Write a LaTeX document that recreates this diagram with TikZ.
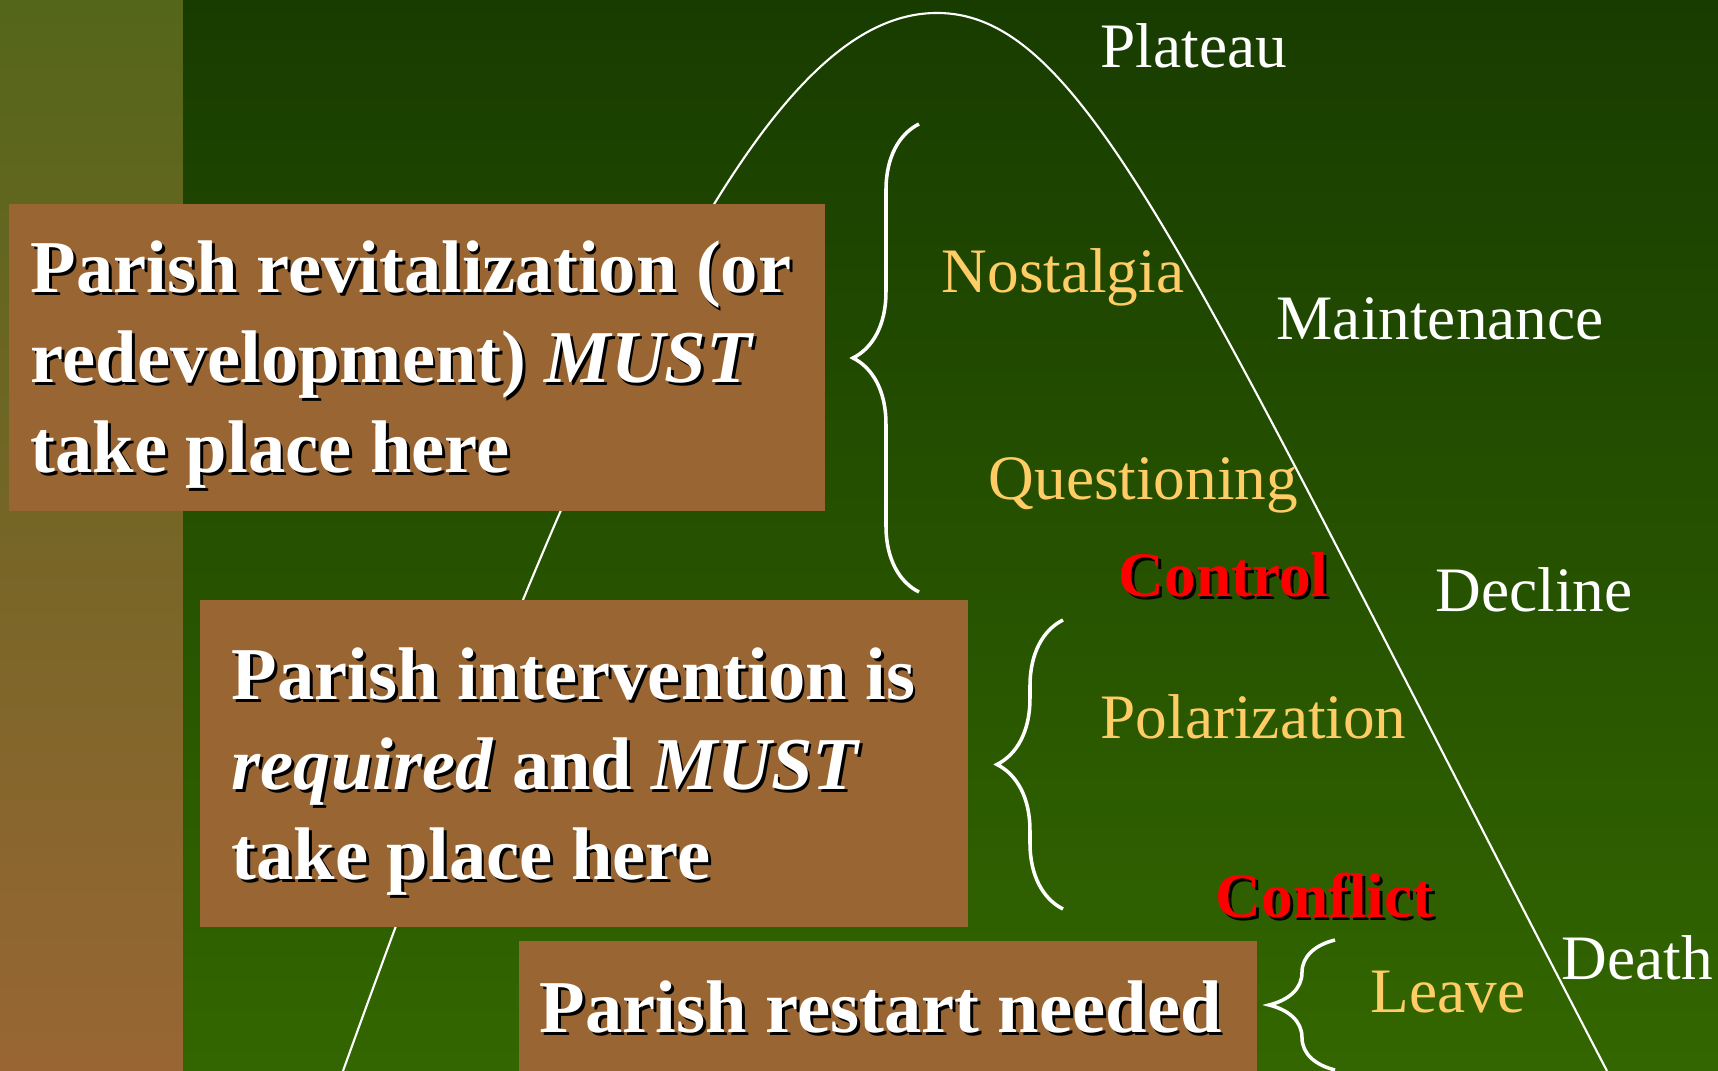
\documentclass[tikz,border=0pt]{standalone}
\usepackage{fontspec}
\setmainfont{Liberation Serif}
\usetikzlibrary{decorations.pathreplacing}

\definecolor{bgtop}{HTML}{183C00}
\definecolor{bgbot}{HTML}{336600}
\definecolor{striptop}{HTML}{54661A}
\definecolor{boxbrown}{HTML}{996633}
\definecolor{gold}{HTML}{FFCC66}
\newcommand{\shad}[1]{\rlap{\kern0.8pt\raisebox{-0.8pt}{\color{black}#1}}#1}

\begin{document}
\begin{tikzpicture}[x=0.01cm,y=-0.01cm,
    box/.style={fill=boxbrown,inner sep=0pt,anchor=north west},
    big/.style={anchor=base west,inner sep=0pt,text=white,font=\fontsize{21.2}{25}\selectfont\bfseries},
    stage/.style={anchor=base west,inner sep=0pt,text=white,font=\fontsize{18}{22}\selectfont},
    mood/.style={stage,text=gold},
    alarm/.style={stage,text=red,font=\fontsize{18}{22}\selectfont\bfseries},
    curly/.style={draw=white,line width=1pt,decorate,decoration={brace,amplitude=0.66cm}}]
            \useasboundingbox (0,0) rectangle (1718,1071);
            \shade[top color=striptop,bottom color=boxbrown] (0,0) rectangle (183,1071);
            \shade[top color=bgtop,bottom color=bgbot] (183,0) rectangle (1718,1071);
            % life cycle curve
            \coordinate (rise) at (343,1071);
            \coordinate (peak) at (937,13);
            \coordinate (fall) at (1607,1071);
            \draw[white,line width=0.6pt] (rise) .. controls (631,271) and (787,13) .. (peak)
                .. controls (1087,13) and (1191,271) .. (fall);
            % boxes
            \node[box,minimum width=8.16cm,minimum height=3.07cm] (revital) at (8,203) {};
            \node[box,minimum width=7.68cm,minimum height=3.27cm] (interv) at (199,599) {};
            \node[box,minimum width=7.38cm,minimum height=1.31cm] (restart) at (518,940) {};
            \node[big] (revitA) at (30,293) {\shad{Parish revitalization (or}};
            \node[big] (revitB) at (30,383) {\shad{redevelopment) \textit{MUST}}};
            \node[big] (revitC) at (30,473) {\shad{take place here}};
            \node[big] (intervA) at (231,700) {\shad{Parish intervention is}};
            \node[big] (intervB) at (231,790) {\shad{\textit{required} and \textit{MUST}}};
            \node[big] (intervC) at (231,880) {\shad{take place here}};
            \node[big] (restartA) at (539,1033) {\shad{Parish restart needed}};
            % stages
            \node[stage] (plateau) at (1100,68) {Plateau};
            \node[stage] (maint) at (1276,340) {Maintenance};
            \node[stage] (decline) at (1435,612) {Decline};
            \node[stage] (death) at (1561,980) {Death};
            \node[mood] (nostal) at (941,293) {Nostalgia};
            \node[mood] (quest) at (988,500) {Questioning};
            \node[mood] (polar) at (1100,739) {Polarization};
            \node[mood] (leave) at (1370,1013) {Leave};
            \node[alarm] (control) at (1118,597) {\shad{Control}};
            \node[alarm] (conflict) at (1215,918) {\shad{Conflict}};
            % braces
            \coordinate (b1top) at (919,124);
            \coordinate (b1bot) at (919,592);
            \coordinate (b2top) at (1063,620);
            \coordinate (b2bot) at (1063,909);
            \coordinate (b3top) at (1335,940);
            \coordinate (b3bot) at (1335,1070);
            \draw[curly] (b1bot) -- (b1top);
            \draw[curly] (b2bot) -- (b2top);
            \draw[curly] (b3bot) -- (b3top);
        \end{tikzpicture}
\end{document}
